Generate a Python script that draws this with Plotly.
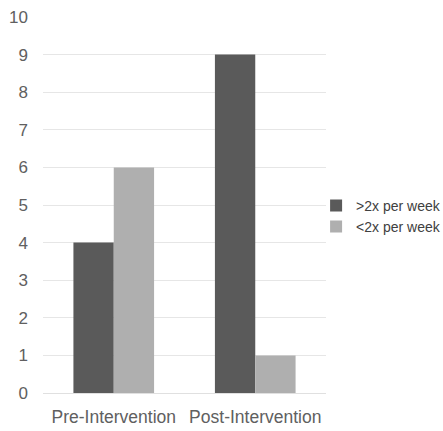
import plotly.graph_objects as go

categories = ["Pre-Intervention", "Post-Intervention"]
series_names = [">2x per week", "<2x per week"]
more_than_2x = [4, 9]
less_than_2x = [6, 1]
y_ticks = [0, 1, 2, 3, 4, 5, 6, 7, 8, 9, 10]

colors = ["#5a5a5a", "#afafaf"]
FONT = "Liberation Sans, Arial, sans-serif"

fig = go.Figure()
fig.add_trace(go.Bar(x=categories, y=more_than_2x, name=series_names[0],
                     marker=dict(color=colors[0], line=dict(width=0))))
fig.add_trace(go.Bar(x=categories, y=less_than_2x, name=series_names[1],
                     marker=dict(color=colors[1], line=dict(width=0))))

fig.update_layout(
    template="none",
    width=443, height=431,
    margin=dict(l=43, r=117, t=17, b=38, autoexpand=False),
    paper_bgcolor="white", plot_bgcolor="white",
    barmode="group", bargap=0.43, bargroupgap=0,
    font=dict(family=FONT, color="#606060", size=17),
    showlegend=True,
    legend=dict(x=0.965, y=0.47, xanchor="left", yanchor="middle",
                font=dict(size=14, color="#404040", family=FONT), itemwidth=30,
                tracegroupgap=0, bgcolor="rgba(0,0,0,0)", borderwidth=0),
    xaxis=dict(showgrid=False, showline=False, ticks="", automargin=False,
               tickangle=0, tickfont=dict(size=17.5), ticklabelstandoff=11),
    yaxis=dict(range=[0, 10], tickvals=y_ticks, showgrid=True, gridcolor="#e6e6e6",
               gridwidth=1, zeroline=True, zerolinecolor="#e0e0e0", zerolinewidth=1,
               showline=False, ticks="", automargin=False,
               tickfont=dict(size=17), ticklabelstandoff=14),
)

fig.write_html("out.html",
               config=dict(displayModeBar=False),
               post_script="document.body.style.margin='0';document.body.style.padding='0';")
